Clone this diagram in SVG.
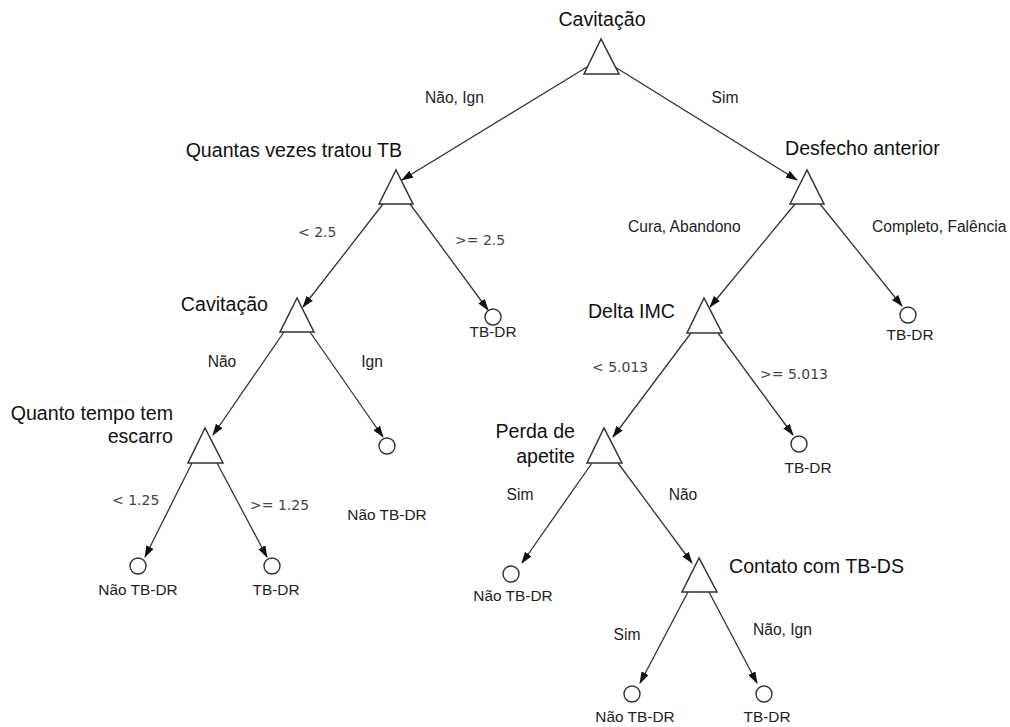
<svg xmlns="http://www.w3.org/2000/svg" width="1010" height="727" viewBox="0 0 1010 727">
  <style>
    .tri { fill: #fff; stroke: #333; stroke-width: 1.5; stroke-linejoin: miter; }
    .leaf { fill: #fff; stroke: #333; stroke-width: 1.4; }
    .edge { stroke: #333; stroke-width: 1.3; fill: none; marker-end: url(#arrow); }
    .name { font-family: "Liberation Sans", Arial, sans-serif; font-size: 19.6px; fill: #111; }
    .lbl { font-family: "Liberation Sans", Arial, sans-serif; font-size: 15.6px; fill: #222; }
    .num { font-family: "DejaVu Sans", "Liberation Sans", sans-serif; font-size: 14px; fill: #444; }
    .out { font-family: "Liberation Sans", Arial, sans-serif; font-size: 15.4px; fill: #222; text-anchor: middle; }
  </style>
  <defs>
    <marker id="arrow" markerWidth="12" markerHeight="8" refX="11" refY="4" orient="auto" markerUnits="userSpaceOnUse">
      <path d="M0,0 L12,4 L0,8 z" fill="#111"/>
    </marker>
  </defs>
  <rect width="1010" height="727" fill="#fff"/>

  <!-- connectors with their branch labels -->
  <g id="connectors">
    <line class="edge" x1="587" y1="67" x2="402" y2="180"/>
    <line class="edge" x1="615" y1="67" x2="797" y2="180"/>
    <text class="lbl" x="425" y="103">Não, Ign</text>
    <text class="lbl" x="725" y="103" text-anchor="middle">Sim</text>

    <line class="edge" x1="383" y1="204" x2="303" y2="307"/>
    <line class="edge" x1="410" y1="204" x2="488" y2="310"/>
    <text class="num" x="298" y="237">&lt; 2.5</text>
    <text class="num" x="455" y="245">&gt;= 2.5</text>

    <line class="edge" x1="284" y1="332" x2="213" y2="435"/>
    <line class="edge" x1="310" y1="332" x2="383" y2="437"/>
    <text class="lbl" x="222" y="367" text-anchor="middle">Não</text>
    <text class="lbl" x="372" y="367" text-anchor="middle">Ign</text>

    <line class="edge" x1="192" y1="463" x2="145" y2="557"/>
    <line class="edge" x1="217" y1="463" x2="267" y2="557"/>
    <text class="num" x="112" y="505">&lt; 1.25</text>
    <text class="num" x="250" y="510">&gt;= 1.25</text>

    <line class="edge" x1="795" y1="204" x2="710" y2="307"/>
    <line class="edge" x1="820" y1="204" x2="902" y2="306"/>
    <text class="lbl" x="628" y="232">Cura, Abandono</text>
    <text class="lbl" x="872" y="232">Completo, Falência</text>

    <line class="edge" x1="691" y1="333" x2="613" y2="437"/>
    <line class="edge" x1="718" y1="333" x2="793" y2="435"/>
    <text class="num" x="592" y="372">&lt; 5.013</text>
    <text class="num" x="760" y="379">&gt;= 5.013</text>

    <line class="edge" x1="592" y1="463" x2="522" y2="563"/>
    <line class="edge" x1="618" y1="463" x2="692" y2="563"/>
    <text class="lbl" x="520" y="500" text-anchor="middle">Sim</text>
    <text class="lbl" x="683" y="500" text-anchor="middle">Não</text>

    <line class="edge" x1="688" y1="592" x2="640" y2="683"/>
    <line class="edge" x1="709" y1="592" x2="757" y2="683"/>
    <text class="lbl" x="627" y="640" text-anchor="middle">Sim</text>
    <text class="lbl" x="753" y="635">Não, Ign</text>
  </g>

  <!-- decision nodes -->
  <g id="n-root">
    <polygon class="tri" points="601,39 584,74 619,74"/>
    <text class="name" x="602" y="26" text-anchor="middle">Cavitação</text>
  </g>
  <g id="n-vezes">
    <polygon class="tri" points="396,170 379,204 413,204"/>
    <text class="name" x="402" y="157" text-anchor="end">Quantas vezes tratou TB</text>
  </g>
  <g id="n-cavitacao2">
    <polygon class="tri" points="297,298 280,332 314,332"/>
    <text class="name" x="268" y="311" text-anchor="end">Cavitação</text>
  </g>
  <g id="n-escarro">
    <polygon class="tri" points="205,428 188,463 223,463"/>
    <text class="name" x="173" y="420" text-anchor="end">Quanto tempo tem</text>
    <text class="name" x="173" y="443" text-anchor="end">escarro</text>
  </g>
  <g id="n-desfecho">
    <polygon class="tri" points="807,170 790,204 824,204"/>
    <text class="name" x="785" y="155">Desfecho anterior</text>
  </g>
  <g id="n-imc">
    <polygon class="tri" points="704,298 687,333 722,333"/>
    <text class="name" x="675" y="318" text-anchor="end">Delta IMC</text>
  </g>
  <g id="n-apetite">
    <polygon class="tri" points="604,428 587,463 622,463"/>
    <text class="name" x="575" y="438" text-anchor="end">Perda de</text>
    <text class="name" x="575" y="463" text-anchor="end">apetite</text>
  </g>
  <g id="n-contato">
    <polygon class="tri" points="699,558 682,592 717,592"/>
    <text class="name" x="729" y="573">Contato com TB-DS</text>
  </g>

  <!-- outcome leaves -->
  <g id="leaf-vezes-ge">
    <circle class="leaf" cx="493" cy="317" r="8"/>
    <text class="out" x="493" y="337">TB-DR</text>
  </g>
  <g id="leaf-cav-ign">
    <circle class="leaf" cx="387" cy="446" r="8"/>
    <text class="out" x="387" y="520">Não TB-DR</text>
  </g>
  <g id="leaf-escarro-lt">
    <circle class="leaf" cx="138" cy="566" r="8"/>
    <text class="out" x="138" y="595">Não TB-DR</text>
  </g>
  <g id="leaf-escarro-ge">
    <circle class="leaf" cx="272" cy="566" r="8"/>
    <text class="out" x="276" y="595">TB-DR</text>
  </g>
  <g id="leaf-desfecho">
    <circle class="leaf" cx="908" cy="315" r="8"/>
    <text class="out" x="910" y="340">TB-DR</text>
  </g>
  <g id="leaf-imc-ge">
    <circle class="leaf" cx="799" cy="444" r="8"/>
    <text class="out" x="808" y="473">TB-DR</text>
  </g>
  <g id="leaf-apetite-sim">
    <circle class="leaf" cx="511" cy="574" r="8"/>
    <text class="out" x="513" y="601">Não TB-DR</text>
  </g>
  <g id="leaf-contato-sim">
    <circle class="leaf" cx="632" cy="694" r="8"/>
    <text class="out" x="635" y="722">Não TB-DR</text>
  </g>
  <g id="leaf-contato-nao">
    <circle class="leaf" cx="764" cy="694" r="8"/>
    <text class="out" x="767" y="722">TB-DR</text>
  </g>
</svg>
